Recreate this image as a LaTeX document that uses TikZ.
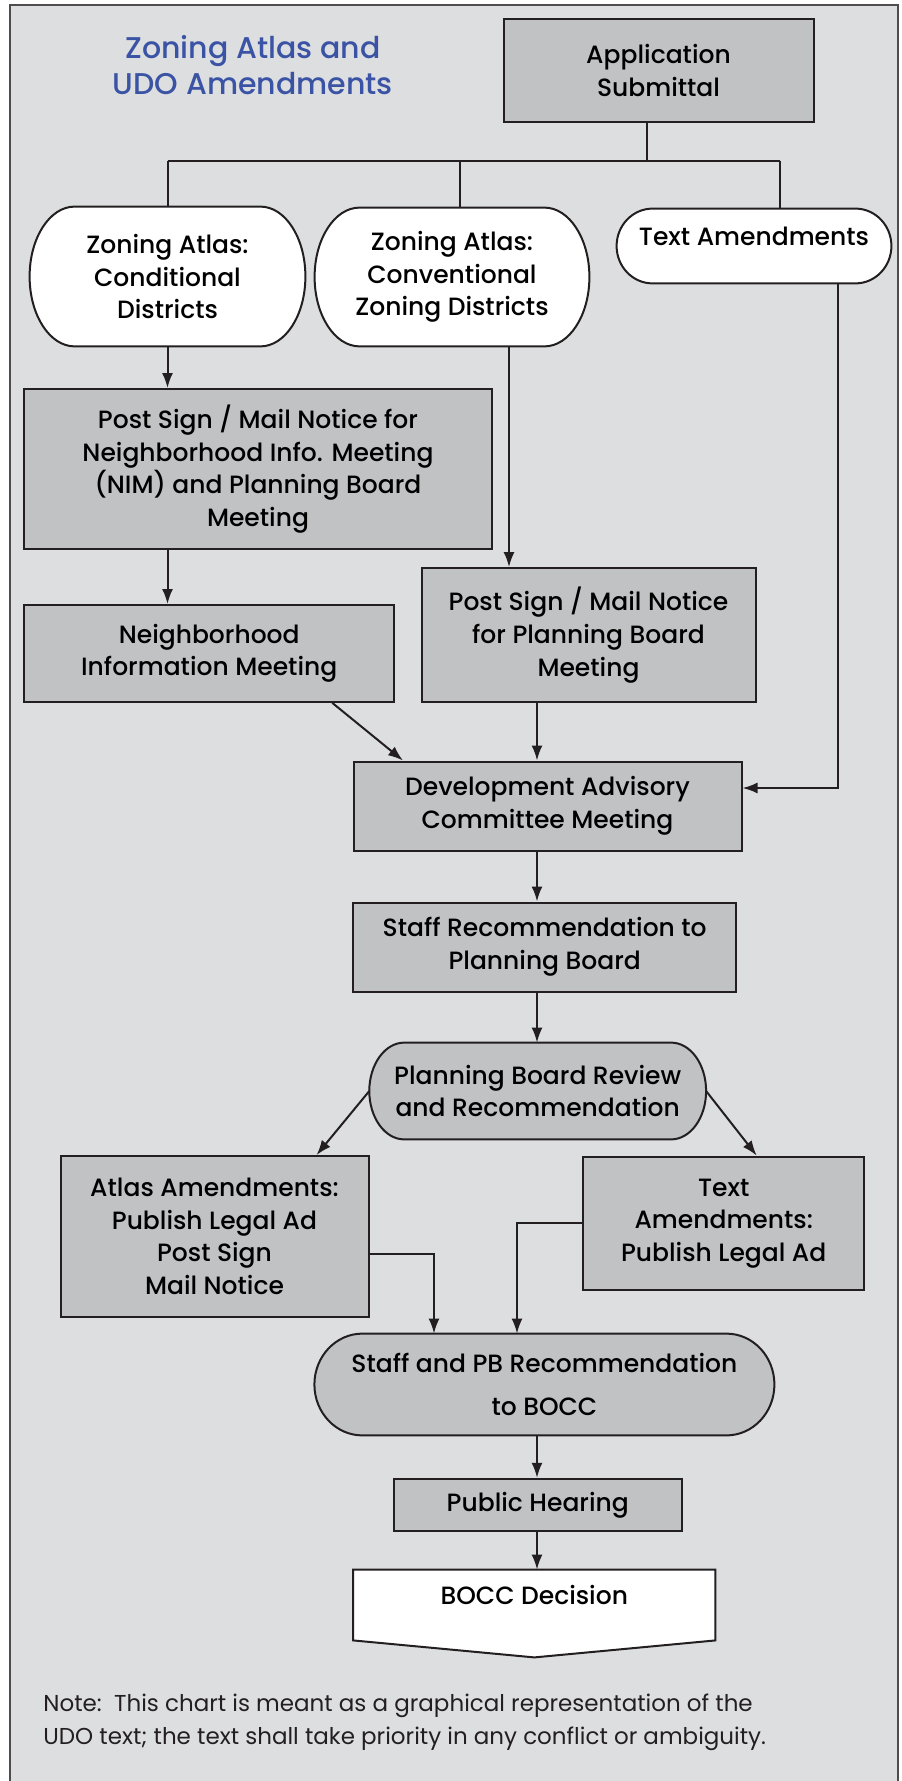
\documentclass[tikz,border=0pt]{standalone}
\usepackage{fontspec}
\setmainfont{Poppins}
\newfontfamily\chartfont{Poppins Medium}
\usetikzlibrary{arrows.meta,backgrounds,calc}

\definecolor{paper}{HTML}{DDDEE0}
\definecolor{boxgray}{HTML}{C1C2C4}
\definecolor{ink}{HTML}{231F20}
\definecolor{titleblue}{HTML}{3A53A4}

\tikzset{
  box/.style={draw=ink, fill=boxgray, line width=1pt, align=center,
    inner sep=0pt, font=\chartfont\fontsize{12.5}{16.3}\selectfont},
  pill/.style={align=center, inner sep=0pt, font=\chartfont\fontsize{12.5}{16.3}\selectfont},
  title/.style={align=center, text=titleblue, font=\chartfont\fontsize{15}{18}\selectfont},
  line/.style={draw=ink, line width=1pt},
}

% rounded end box drawn round a node: node, corner x radius, fill
\newcommand{\pilldraw}[3]{%
  \draw[draw=ink, line width=1pt, fill=#3]
    let \p1=(#1.north), \p2=(#1.south), \n1={(\y1-\y2)/2} in
    ([xshift=#2]#1.north west) -- ([xshift=-#2]#1.north east)
    arc[start angle=90, end angle=-90, x radius=#2, y radius=\n1]
    -- ([xshift=#2]#1.south west)
    arc[start angle=270, end angle=90, x radius=#2, y radius=\n1] -- cycle;}

\begin{document}
\begin{tikzpicture}[x=0.5pt, y=-0.5pt, >={Latex[length=7.5pt,width=5.5pt]}]
  % Fix the page to the size of the chart
  \useasboundingbox (0,0) rectangle (901,1781);
  \begin{scope}[on background layer]
    \draw[draw=ink!80, fill=paper, line width=1.1pt] (10,5) rectangle (898,1790);
  \end{scope}

  % Title
  \node[title] (title) at (253,65) {Zoning Atlas and\\UDO Amendments};

  % Boxes, top to bottom
  \node[box, minimum width=155pt, minimum height=51.5pt] (app) at (658.5,70.4) {Application\\Submittal};
  \node[pill, minimum width=137.5pt, minimum height=69.5pt] (cond) at (167.5,276.5) {Zoning Atlas:\\Conditional\\Districts};
  \node[pill, minimum width=137pt, minimum height=69pt] (conv) at (452,277) {Zoning Atlas:\\Conventional\\Zoning Districts};
  \node[pill, minimum width=137pt, minimum height=37pt, text depth=10pt] (txt) at (754,246) {Text Amendments};
  \node[box, minimum width=234pt, minimum height=80pt] (nimn) at (258,469) {Post Sign / Mail Notice for\\Neighborhood Info. Meeting\\(NIM) and Planning Board\\Meeting};
  \node[box, minimum width=185pt, minimum height=48.4pt] (nim) at (209.2,653.4) {Neighborhood\\Information Meeting};
  \node[box, minimum width=167pt, minimum height=66.9pt] (pbn) at (588.5,635) {Post Sign / Mail Notice\\for Planning Board\\Meeting};
  \node[box, minimum width=194pt, minimum height=44.5pt] (dac) at (547.5,806) {Development Advisory\\Committee Meeting};
  \node[box, minimum width=191.3pt, minimum height=44.5pt] (staff) at (544.7,947) {Staff Recommendation to\\Planning Board};
  \node[pill, minimum width=168pt, minimum height=48pt] (pbr) at (537.7,1091) {Planning Board Review\\and Recommendation};
  \node[box, minimum width=154pt, minimum height=80.3pt] (atlas) at (214.5,1236.4) {Atlas Amendments:\\Publish Legal Ad\\Post Sign\\Mail Notice};
  \node[box, minimum width=140.3pt, minimum height=66.7pt] (textad) at (723.7,1223.3) {Text\\Amendments:\\Publish Legal Ad};
  \node[pill, minimum width=229.6pt, minimum height=50.5pt] (sbocc) at (544.4,1384.5) {Staff and PB Recommendation\\[5pt]to BOCC};
  \node[box, minimum width=143.8pt, minimum height=26.2pt] (ph) at (537.8,1505) {Public Hearing};
  \node[pill, minimum width=180.75pt, minimum height=35pt, text depth=10pt] (bocc) at (534.3,1605) {BOCC Decision};

  % Note at the foot
  \node[anchor=west, align=left, inner sep=0pt, text=ink,
    font=\fontsize{11.5}{16.7}\selectfont] (note) at (43,1722)
    {Note:\ \ This chart is meant as a graphical representation of the\\UDO text; the text shall take priority in any conflict or ambiguity.};

  % Outlines of the rounded boxes and the decision shape
  \begin{scope}[on background layer]
    \pilldraw{cond}{22.5pt}{white}
    \pilldraw{conv}{22.5pt}{white}
    \pilldraw{txt}{18pt}{white}
    \pilldraw{pbr}{17.5pt}{boxgray}
    \pilldraw{sbocc}{24pt}{boxgray}
    \draw[draw=ink, line width=1pt, fill=white] (bocc.north west) -- (bocc.north east)
      -- (bocc.south east) -- ([yshift=-8.5pt]bocc.south) -- (bocc.south west) -- cycle;
  \end{scope}

  % Tree from the application
  \coordinate (bus) at (647,161);
  \draw[line] (app.south -| bus) -- (bus);
  \draw[line] (167.5,161) -- (780,161);
  \foreach \c/\n in {167.5/cond, 460/conv, 780/txt} {
    \coordinate (b\n) at (\c,161);
    \draw[line] (b\n) -- (b\n |- \n.north);
  }

  % Arrows on the left and right branches
  \draw[line, ->] (cond.south) -- (cond.south |- nimn.north);
  \draw[line, ->] ([xshift=28.5pt]conv.south) -- ([xshift=28.5pt]conv.south |- pbn.north);
  \draw[line, ->] ([xshift=41.75pt]txt.south) |- ([yshift=9pt]dac.east);
  \draw[line, ->] ([xshift=-20.85pt]nim.north |- nimn.south) -- ([xshift=-20.85pt]nim.north);
  \draw[line, ->] ([xshift=61.5pt]nim.south) -- ([xshift=25.25pt]dac.north west);

  % Arrows down the middle
  \coordinate (spine) at (537,0);
  \foreach \a/\b in {pbn/dac, dac/staff, staff/pbr, sbocc/ph, ph/bocc} {
    \draw[line, ->] (\a.south -| spine) -- (\b.north -| spine);
  }

  % Split after the Planning Board and join again
  \draw[line, ->] (pbr.west) -- ([xshift=51pt]atlas.north);
  \draw[line, ->] (pbr.east) -- ([xshift=16.5pt]textad.north);
  \draw[line, ->] ([yshift=-9pt]atlas.east) -| ([xshift=-55.2pt]sbocc.north);
  \draw[line, ->] (textad.west) -| ([xshift=-13.7pt]sbocc.north);
\end{tikzpicture}
\end{document}
